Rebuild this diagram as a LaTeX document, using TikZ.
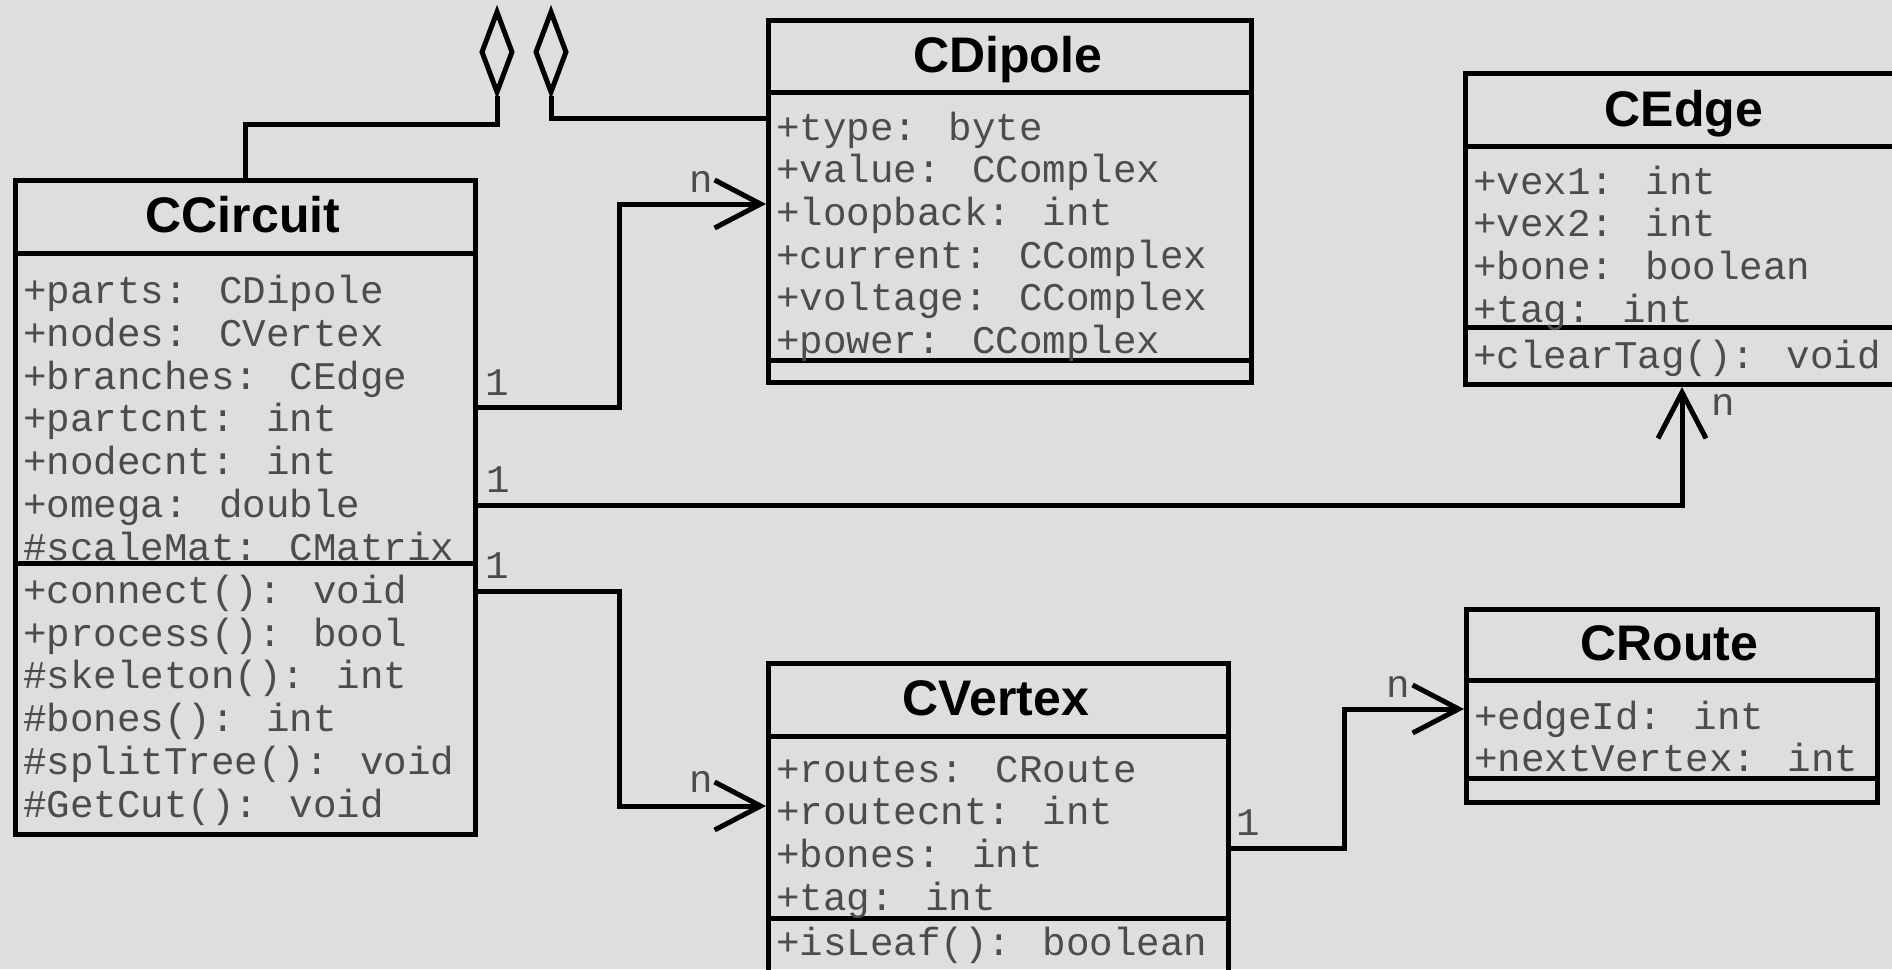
\documentclass[tikz,border=0pt]{standalone}
\usepackage{fontspec}
\usetikzlibrary{arrows.meta,shapes.geometric}
\newfontfamily\umltitlefont{Liberation Sans}
\newfontfamily\umlmemfont{Liberation Mono}
\definecolor{bgc}{RGB}{222,222,222}
\tikzset{
  umlbox/.style={draw, line width=5pt, rectangle, inner sep=0pt, anchor=north west},
  sepline/.style={line width=5pt},
  umltitle/.style={font=\umltitlefont\bfseries\fontsize{50}{60}\selectfont, anchor=base, inner sep=0pt},
  member/.style={font=\umlmemfont\fontsize{39.2}{46}\selectfont, text=black!70, anchor=base west, inner sep=0pt},
  mult/.style={font=\umlmemfont\fontsize{39.2}{46}\selectfont, text=black!70, anchor=base, inner sep=0pt},
  conn/.style={line width=5pt},
  assoc/.style={conn, -{Straight Barb[length=46pt, width=48pt]}},
  aggdiamond/.style={draw, diamond, line width=5pt, inner sep=0pt, minimum width=32pt, minimum height=82pt},
}
\begin{document}
\begin{tikzpicture}[x=1pt, y=-1pt]
\clip (0,0) rectangle (1892,969);
\fill[bgc] (0,0) rectangle (1892,969);

% ---------- CCircuit ----------
\node[umlbox, minimum width=460pt, minimum height=654pt] (circuit) at (13,178) {};
\draw[sepline] (circuit.west |- 0,253) -- (circuit.east |- 0,253);
\draw[sepline] (circuit.west |- 0,563) -- (circuit.east |- 0,563);
\node[umltitle] (circuitT) at (243,232) {CCircuit};
\node[member] (ca1) at (23,303.8) {+parts: CDipole};
\node[member] (ca2) at (23,346.5) {+nodes: CVertex};
\node[member] (ca3) at (23,389.2) {+branches: CEdge};
\node[member] (ca4) at (23,431.9) {+partcnt: int};
\node[member] (ca5) at (23,474.6) {+nodecnt: int};
\node[member] (ca6) at (23,517.3) {+omega: double};
\node[member] (ca7) at (23,560) {\#scaleMat: CMatrix};
\node[member] (cm1) at (23,603.5) {+connect(): void};
\node[member] (cm2) at (23,646.2) {+process(): bool};
\node[member] (cm3) at (23,688.9) {\#skeleton(): int};
\node[member] (cm4) at (23,731.6) {\#bones(): int};
\node[member] (cm5) at (23,774.3) {\#splitTree(): void};
\node[member] (cm6) at (23,817) {\#GetCut(): void};

% ---------- CDipole ----------
\node[umlbox, minimum width=483pt, minimum height=362pt] (dipole) at (766,18) {};
\draw[sepline] (dipole.west |- 0,92) -- (dipole.east |- 0,92);
\draw[sepline] (dipole.west |- 0,360) -- (dipole.east |- 0,360);
\node[umltitle] (dipoleT) at (1007.5,72) {CDipole};
\node[member] (da1) at (776,140) {+type: byte};
\node[member] (da2) at (776,182.7) {+value: CComplex};
\node[member] (da3) at (776,225.4) {+loopback: int};
\node[member] (da4) at (776,268.1) {+current: CComplex};
\node[member] (da5) at (776,310.8) {+voltage: CComplex};
\node[member] (da6) at (776,353.5) {+power: CComplex};

% ---------- CEdge ----------
\node[umlbox, minimum width=470pt, minimum height=311pt] (edge) at (1463,71) {};
\draw[sepline] (edge.west |- 0,146) -- (edge.east |- 0,146);
\draw[sepline] (edge.west |- 0,327) -- (edge.east |- 0,327);
\node[umltitle] (edgeT) at (1684,126) {CEdge};
\node[member] (ea1) at (1473,194) {+vex1: int};
\node[member] (ea2) at (1473,236.7) {+vex2: int};
\node[member] (ea3) at (1473,279.4) {+bone: boolean};
\node[member] (ea4) at (1473,322.1) {+tag: int};
\node[member] (em1) at (1473,368) {+clearTag(): void};

% ---------- CVertex ----------
\node[umlbox, minimum width=460pt, minimum height=360pt] (vertex) at (766,661) {};
\draw[sepline] (vertex.west |- 0,736) -- (vertex.east |- 0,736);
\draw[sepline] (vertex.west |- 0,918) -- (vertex.east |- 0,918);
\node[umltitle] (vertexT) at (996,715) {CVertex};
\node[member] (va1) at (776,782) {+routes: CRoute};
\node[member] (va2) at (776,824.7) {+routecnt: int};
\node[member] (va3) at (776,867.4) {+bones: int};
\node[member] (va4) at (776,910.1) {+tag: int};
\node[member] (vm1) at (776,955) {+isLeaf(): boolean};

% ---------- CRoute ----------
\node[umlbox, minimum width=411pt, minimum height=193pt] (route) at (1464,607) {};
\draw[sepline] (route.west |- 0,680) -- (route.east |- 0,680);
\draw[sepline] (route.west |- 0,778) -- (route.east |- 0,778);
\node[umltitle] (routeT) at (1669.5,660) {CRoute};
\node[member] (ra1) at (1474,729) {+edgeId: int};
\node[member] (ra2) at (1474,771.7) {+nextVertex: int};

% ---------- aggregation diamonds ----------
\node[aggdiamond] (dmA) at (497,52) {};
\node[aggdiamond] (dmB) at (551,52) {};
\coordinate (k1) at (0,124);
\coordinate (k2) at (0,118);
\draw[conn] (circuit.north) |- (k1 -| dmA.south) -- (dmA.south);
\draw[conn] (dmB.south) |- (dipole.west |- k2);

% ---------- associations ----------
\coordinate (j3) at (619,407);
\coordinate (t3) at (0,204);
\draw[assoc] (circuit.east |- j3) -- (j3) |- (dipole.west |- t3);

\coordinate (j4) at (1682,505);
\draw[assoc] (circuit.east |- j4) -- (j4) -- (j4 |- edge.south);

\coordinate (j5) at (619,591);
\coordinate (t5) at (0,806);
\draw[assoc] (circuit.east |- j5) -- (j5) |- (vertex.west |- t5);

\coordinate (j6) at (1344,848);
\coordinate (t6) at (0,709);
\draw[assoc] (vertex.east |- j6) -- (j6) |- (route.west |- t6);

% ---------- multiplicities ----------
\node[mult] (m3a) at (497,395) {1};
\node[mult] (m3b) at (701,192) {n};
\node[mult] (m4a) at (498,492) {1};
\node[mult] (m4b) at (1723,415) {n};
\node[mult] (m5a) at (497,578) {1};
\node[mult] (m5b) at (701,792) {n};
\node[mult] (m6a) at (1248,835) {1};
\node[mult] (m6b) at (1398,697) {n};
\end{tikzpicture}
\end{document}
